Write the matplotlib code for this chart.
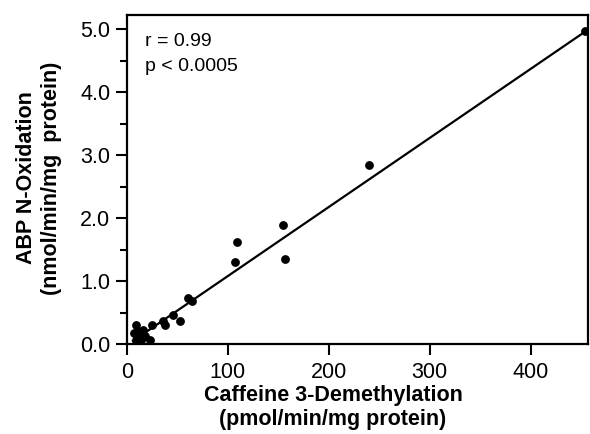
import matplotlib
matplotlib.use("Agg")
import matplotlib.pyplot as plt
import numpy as np

plt.rcParams['font.family'] = ['Liberation Sans', 'DejaVu Sans']

# caffeine 3-demethylation (pmol/min/mg) vs ABP N-oxidation (nmol/min/mg)
caffeine = [7, 9, 11, 16, 18, 25, 9, 14, 23, 36, 38, 46, 53, 61, 65,
            107, 109, 155, 157, 240, 454]
abp = [0.18, 0.30, 0.20, 0.22, 0.13, 0.30, 0.06, 0.06, 0.06, 0.36, 0.30,
       0.47, 0.37, 0.74, 0.68, 1.31, 1.62, 1.89, 1.35, 2.84, 4.97]

# regression line as drawn
fit_x = [6, 454]
fit_y = [0.05, 4.96]

x_ticks = [0, 100, 200, 300, 400]
y_ticks = [0.0, 1.0, 2.0, 3.0, 4.0, 5.0]

fig = plt.figure(figsize=(5.9, 4.34), dpi=100)
ax = fig.add_axes([0.215, 0.207, 0.782, 0.758])

ax.plot(caffeine, abp, 'o', color='black', markersize=5.3)
ax.plot(fit_x, fit_y, color='black', lw=1.6)

ax.set_xlim(0, 457)
ax.set_ylim(0, 5.22)
ax.set_xticks(x_ticks)
ax.set_yticks(y_ticks)
ax.set_yticklabels(['%.1f' % v for v in y_ticks])
ax.set_yticks(np.arange(0.5, 5.0, 1.0), minor=True)
ax.tick_params(axis='both', which='major', labelsize=15.5, length=8, width=1.5,
               direction='out', colors='black')
ax.tick_params(axis='y', which='minor', length=5, width=1.5)
ax.tick_params(axis='x', pad=5)
ax.tick_params(axis='y', pad=4)
for s in ax.spines.values():
    s.set_linewidth(1.6)

ax.text(0.04, 0.92, 'r = 0.99', transform=ax.transAxes, fontsize=14, va='center')
ax.text(0.04, 0.845, 'p < 0.0005', transform=ax.transAxes, fontsize=14, va='center')

fig.text(333 / 590, 1 - 385 / 434, 'Caffeine 3-Demethylation\n(pmol/min/mg protein)',
         fontsize=15.5, fontweight='bold', linespacing=1.2, ha='center', va='top')
fig.text(39 / 590, 1 - 178 / 434, 'ABP N-Oxidation\n(nmol/min/mg  protein)',
         fontsize=15.5, fontweight='bold', linespacing=1.2, ha='center', va='center',
         rotation=90)

fig.savefig('out.png', dpi=100)
